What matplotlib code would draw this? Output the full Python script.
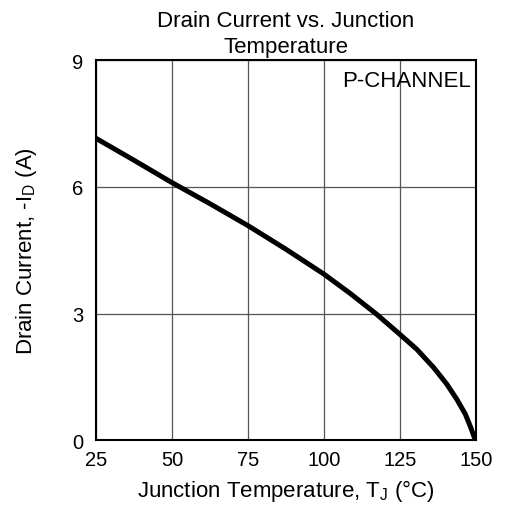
import numpy as np
import matplotlib.pyplot as plt

plt.rcParams['font.family'] = ['Liberation Sans', 'DejaVu Sans']

temp = [25, 37.5, 50, 62.5, 75, 87.5, 100, 108.5, 117.3, 125, 130.5, 136,
        140.3, 143.6, 146.4, 148.2, 149.3, 150]
current = [7.15, 6.63, 6.1, 5.6, 5.08, 4.52, 3.93, 3.48, 2.98, 2.5, 2.15, 1.72,
           1.33, 0.97, 0.62, 0.30, 0.08, 0.0]

xticks = [25, 50, 75, 100, 125, 150]
yticks = [0, 3, 6, 9]

fig = plt.figure(figsize=(5.05, 5.10), dpi=100)
ax = fig.add_axes([0.190, 0.135, 0.753, 0.745])

ax.plot(temp, current, color='black', lw=3.6, solid_capstyle='butt')

ax.set_xlim(25, 150)
ax.set_ylim(0, 9)
ax.set_xticks(xticks)
ax.set_yticks(yticks)
ax.grid(True, color='#555555', lw=0.9)
ax.tick_params(axis='x', length=0, labelsize=14.5, pad=7)
ax.tick_params(axis='y', length=0, labelsize=14.5, pad=9)
for s in ax.spines.values():
    s.set_linewidth(1.5)

ax.set_title('Drain Current vs. Junction\nTemperature', fontsize=16, pad=6, linespacing=1.3)
ax.set_xlabel('Junction Temperature, T$_\\mathregular{J}$ (°C)', fontsize=16, labelpad=6)
ax.set_ylabel('Drain Current, -I$_\\mathregular{D}$ (A)', fontsize=16, labelpad=24)
ax.text(0.985, 0.975, 'P-CHANNEL', transform=ax.transAxes, ha='right', va='top', fontsize=16)

fig.savefig('out.png', dpi=100)
